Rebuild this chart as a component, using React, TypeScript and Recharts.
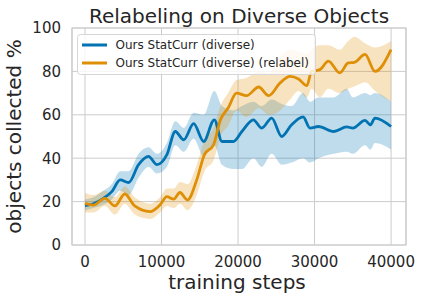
import React from "react";
import {
  ComposedChart,
  Line,
  Area,
  XAxis,
  YAxis,
  CartesianGrid,
  ReferenceArea,
} from "recharts";

// ---- data ----
const blueSteps = [0, 1100, 2400, 3500, 4600, 5700, 7000, 8300, 9400, 10700, 11800, 12900, 14200, 15500, 16900, 17900, 19400, 20500, 22000, 23100, 24400, 25700, 27000, 28500, 29400, 30500, 32500, 34200, 35000, 36600, 37300, 37900, 40000];
const blueMean = [18.2, 19, 21.5, 24.6, 30, 28.8, 37, 40.8, 37, 41.6, 52.3, 48.5, 55.9, 47.7, 57.7, 47.7, 47.7, 52.3, 57.7, 53.9, 58.5, 50, 55.4, 59, 53.9, 54.6, 52.3, 54.4, 53.9, 57.4, 55.4, 58.5, 54.6];
const blueLow = [16, 17, 18.5, 21, 25, 23, 31, 36, 33, 36, 46, 43, 49, 41, 46, 37, 35, 35, 40, 36, 42, 37, 38, 40, 38, 40, 42, 43, 42, 46, 44, 47, 44];
const blueHigh = [21, 22, 25, 28, 34, 34, 42, 45, 42, 47, 57, 54, 61, 60, 71, 64, 62, 64, 66, 64, 67, 65, 64, 70, 66, 68, 68, 72, 68, 70, 69, 70, 66];

const orangeSteps = [0, 1100, 2600, 3900, 5200, 6500, 8500, 9800, 10700, 11600, 12400, 13400, 14600, 15600, 16800, 17700, 18700, 19800, 21100, 22700, 24000, 25500, 26800, 27900, 29000, 29600, 30700, 31800, 33300, 34400, 35200, 36600, 37900, 40000];
const orangeMean = [19.2, 18.4, 21.5, 18, 23.5, 18, 15.4, 18.5, 22.3, 21.1, 24.2, 20.8, 30, 41.6, 46.2, 57.7, 63.1, 70, 68.8, 72.8, 68.8, 74.7, 77.7, 76.5, 73.4, 80, 80.8, 84.7, 79.3, 83.9, 84.2, 87.8, 80, 90];
const orangeLow = [15, 15, 18, 14, 19, 14, 12, 15, 18, 17, 19, 16, 23, 34, 39, 50, 55, 62, 59, 63, 60, 62, 67, 71, 68, 72, 68, 72, 70, 72, 73, 75, 71, 66];
const orangeHigh = [24, 23, 25, 22, 27, 22, 19, 22, 26, 26, 29, 28, 37, 48, 54, 64, 70, 76, 77, 80, 79, 87, 90, 89, 88, 90, 92, 92, 90, 94, 96, 93, 91, 94];

const xTicks = [0, 10000, 20000, 30000, 40000];
const yTicks = [0, 20, 40, 60, 80, 100];

const seriesNames = ["Ours StatCurr (diverse)", "Ours StatCurr (diverse) (relabel)"];
const titleText = "Relabeling on Diverse Objects";
const xLabel = "training steps";
const yLabel = "objects collected %";

const BLUE = "#0173b2";
const ORANGE = "#de8f05";
const FONT = "'DejaVu Sans', sans-serif";
const TEXT = "#262626";

const blueData = blueSteps.map((s, i) => ({ x: s, y: blueMean[i], band: [blueLow[i], blueHigh[i]] }));
const orangeData = orangeSteps.map((s, i) => ({ x: s, y: orangeMean[i], band: [orangeLow[i], orangeHigh[i]] }));

const X_MIN = -1700;
const X_MAX = 41950;

export default function App() {
  return (
    <div style={{ position: "absolute", left: 0, top: 0, width: 423, height: 301, background: "#fff", fontFamily: FONT }}>
      <ComposedChart width={423} height={301} margin={{ top: 28, right: 17, bottom: 0, left: 0 }}>
        <CartesianGrid stroke="#cccccc" strokeWidth={1} />
        <XAxis
          type="number"
          dataKey="x"
          domain={[X_MIN, X_MAX]}
          ticks={xTicks}
          allowDataOverflow
          height={56}
          tickLine={false}
          tickSize={0}
          tickMargin={11}
          axisLine={false}
          tick={{ fontSize: 15, fill: TEXT, fontFamily: FONT }}
        />
        <YAxis
          type="number"
          domain={[0, 100]}
          ticks={yTicks}
          width={72}
          tickLine={false}
          tickSize={0}
          tickMargin={11}
          axisLine={false}
          tick={{ fontSize: 15, fill: TEXT, fontFamily: FONT }}
        />
        <Area data={blueData} dataKey="band" type="monotone" stroke="none" fill={BLUE} fillOpacity={0.25} isAnimationActive={false} />
        <Line data={blueData} dataKey="y" type="monotone" stroke={BLUE} strokeWidth={2.8} dot={false} isAnimationActive={false} />
        <Area data={orangeData} dataKey="band" type="monotone" stroke="none" fill={ORANGE} fillOpacity={0.25} isAnimationActive={false} />
        <Line data={orangeData} dataKey="y" type="monotone" stroke={ORANGE} strokeWidth={2.8} dot={false} isAnimationActive={false} />
        <ReferenceArea x1={X_MIN} x2={X_MAX} y1={0} y2={100} fill="none" stroke="#cccccc" strokeWidth={1.2} ifOverflow="visible" />
      </ComposedChart>
      <svg width={423} height={301} style={{ position: "absolute", left: 0, top: 0, pointerEvents: "none" }}>
        <text x={239} y={23} textAnchor="middle" fontSize={20} fill={TEXT} fontFamily={FONT}>{titleText}</text>
        <text x={237} y={289} textAnchor="middle" fontSize={20} fill={TEXT} fontFamily={FONT}>{xLabel}</text>
        <text x={21} y={136.5} textAnchor="middle" fontSize={20} fill={TEXT} fontFamily={FONT} transform="rotate(-90 21 136.5)">{yLabel}</text>
        <g>
          <rect x={77.5} y={34.5} width={238} height={40} rx={3} ry={3} fill="#ffffff" fillOpacity={0.8} stroke="#d6d6d6" strokeWidth={1} />
          <line x1={82} x2={107} y1={45} y2={45} stroke={BLUE} strokeWidth={3} />
          <text x={115.5} y={49.3} fontSize={12} fill={TEXT} fontFamily={FONT}>{seriesNames[0]}</text>
          <line x1={82} x2={107} y1={63} y2={63} stroke={ORANGE} strokeWidth={3} />
          <text x={115.5} y={67.3} fontSize={12} fill={TEXT} fontFamily={FONT}>{seriesNames[1]}</text>
        </g>
      </svg>
    </div>
  );
}
